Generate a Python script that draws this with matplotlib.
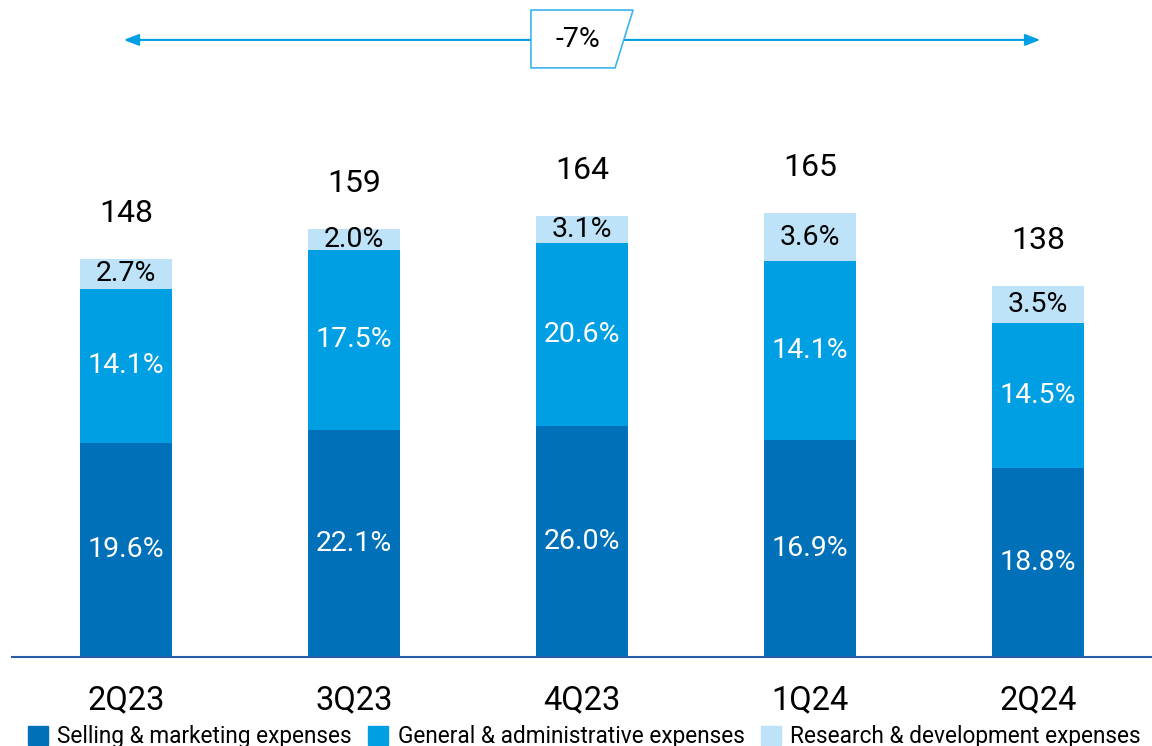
import matplotlib
matplotlib.use("Agg")
import matplotlib.pyplot as plt
from matplotlib.patches import Polygon, Patch

plt.rcParams['font.family'] = ['Roboto', 'DejaVu Sans']
plt.rcParams['font.weight'] = 'normal'

categories = ["2Q23", "3Q23", "4Q23", "1Q24", "2Q24"]
totals = [148, 159, 164, 165, 138]
selling = [79.7, 84.4, 85.9, 80.7, 70.3]
general = [57.2, 66.9, 68.0, 66.5, 53.9]
research = [11.1, 7.7, 10.1, 17.8, 13.8]
selling_pct = ["19.6%", "22.1%", "26.0%", "16.9%", "18.8%"]
general_pct = ["14.1%", "17.5%", "20.6%", "14.1%", "14.5%"]
research_pct = ["2.7%", "2.0%", "3.1%", "3.6%", "3.5%"]
series_names = ["Selling & marketing expenses", "General & administrative expenses",
                "Research & development expenses"]
change_label = "-7%"

c_dark = "#0070B8"
c_mid = "#009FE3"
c_light = "#BEE3F8"

W, H = 1152, 746
fig = plt.figure(figsize=(W / 100, H / 100), dpi=100)
ax = fig.add_axes([12 / W, 1 - 657 / H, 1 - 12 / W, 657 / H])
ax.set_xlim(-0.5, 4.5)
ax.set_ylim(0, 657 / 2.69)

x = list(range(len(categories)))
bw = 0.40
ax.bar(x, selling, bw, color=c_dark)
ax.bar(x, general, bw, bottom=selling, color=c_mid)
bot3 = [s + g for s, g in zip(selling, general)]
ax.bar(x, research, bw, bottom=bot3, color=c_light)

for i in x:
    ax.text(i, selling[i] / 2, selling_pct[i], ha='center', va='center', color='white', fontsize=20.5)
    ax.text(i, selling[i] + general[i] / 2, general_pct[i], ha='center', va='center', color='white', fontsize=20.5)
    ax.text(i, bot3[i] + research[i] / 2, research_pct[i], ha='center', va='center', color='black', fontsize=20.5)
    top = bot3[i] + research[i]
    ax.text(i, top + 17, str(totals[i]), ha='center', va='center', color='black', fontsize=23)

for s in ['top', 'right', 'left']:
    ax.spines[s].set_visible(False)
ax.spines['bottom'].set_color("#2A5DA8")
ax.spines['bottom'].set_linewidth(1.5)
ax.set_yticks([])
ax.set_xticks(x)
ax.set_xticklabels(categories, fontsize=23.5)
ax.tick_params(axis='x', length=0, pad=20)

# growth arrow
ya = 229.4
ax.annotate("", xy=(-0.01, ya), xytext=(1.78, ya),
            arrowprops=dict(arrowstyle='-|>,head_length=0.9,head_width=0.35', color=c_mid, lw=1.5,
                            shrinkA=0, shrinkB=0))
ax.annotate("", xy=(4.01, ya), xytext=(2.18, ya),
            arrowprops=dict(arrowstyle='-|>,head_length=0.9,head_width=0.35', color=c_mid, lw=1.5,
                            shrinkA=0, shrinkB=0))
poly = Polygon([(1.776, 240.5), (2.224, 240.5), (2.145, 219.0), (1.776, 219.0)],
               closed=True, facecolor='white', edgecolor="#3BB5EC", lw=1.2, zorder=5)
ax.add_patch(poly)
ax.text(1.98, ya, change_label, ha='center', va='center', fontsize=20.5, zorder=6)

handles = [Patch(color=c_dark), Patch(color=c_mid), Patch(color=c_light)]
fig.legend(handles, series_names, loc='lower left', bbox_to_anchor=(28 / W, -2 / H),
           ncol=3, frameon=False, fontsize=16.3, handlelength=0.88, handleheight=0.9,
           handletextpad=0.42, columnspacing=0.72, borderaxespad=0, borderpad=0)

fig.savefig("out.png", dpi=100)
